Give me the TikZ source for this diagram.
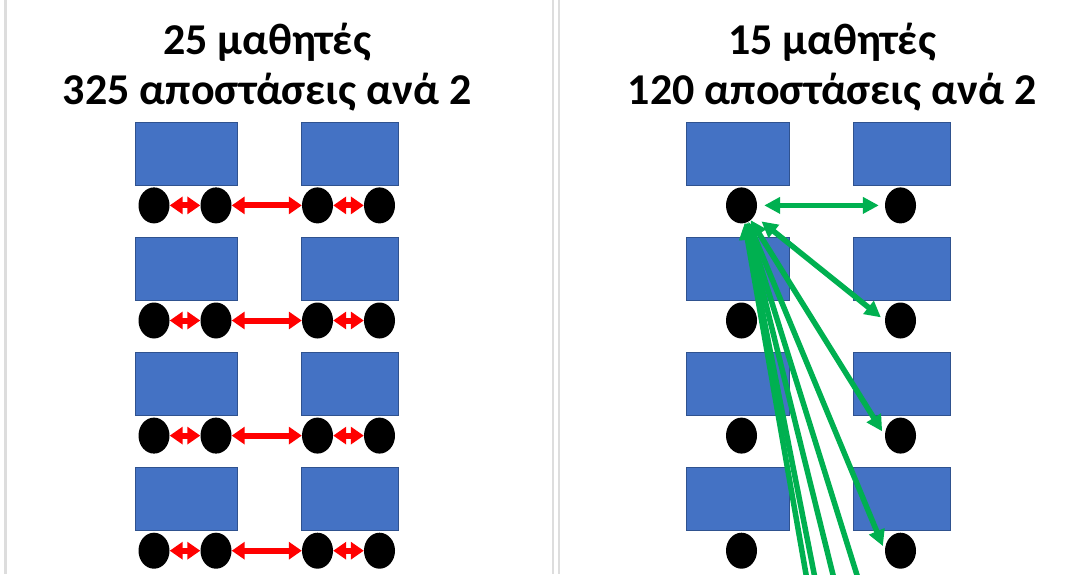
\documentclass[tikz,border=0pt]{standalone}
\usepackage{fontspec}
\setmainfont{Carlito}
\usepackage{tikz}
\usetikzlibrary{positioning, shapes.geometric, arrows.meta}
\definecolor{deskblue}{HTML}{4472C4}
\definecolor{deskedge}{HTML}{2F528F}
\definecolor{pairgreen}{HTML}{00B050}
\definecolor{framegray}{HTML}{DDDDDD}
\tikzstyle{desk} = [rectangle, minimum width=100pt, minimum height=63pt, inner sep=0pt, draw=deskedge, fill=deskblue]
\tikzstyle{seat} = [ellipse, minimum width=31pt, minimum height=36pt, inner sep=0pt, fill=black]
\tikzstyle{title} = [font=\bfseries\fontsize{44}{50}\selectfont, align=center, inner sep=0pt]
\tikzstyle{redpair} = [line width=6pt, red, <->, >={Triangle[length=13pt, width=17pt]}]
\tikzstyle{greenpair} = [line width=5.5pt, pairgreen, <->, >={Triangle[length=16pt, width=16pt]}]
\tikzstyle{frame} = [line width=2.5pt, framegray]

\begin{document}
\begin{tikzpicture}[x=1pt, y=-1pt, node distance=51.7pt]
        \useasboundingbox (0,0) rectangle (1086,574);
        \clip (0,0) rectangle (1086,574);

        % panel edges
        \draw[frame] (5.5,0)   -- (5.5,574);
        \draw[frame] (553,0)   -- (553,574);
        \draw[frame] (559,0)   -- (559,574);

        \node[title]                          at (267,67)  (title left)  {25 μαθητές\\325 αποστάσεις ανά 2};
        \node[title]                          at (832,67)  (title right) {15 μαθητές\\120 αποστάσεις ανά 2};

        % left classroom: every pair of neighbours
        \node[desk, minimum width=102pt]      at (186,153.5) (desk a1) {};
        \node[desk, minimum width=102pt, below=of desk a1] (desk a2) {};
        \node[desk, minimum width=102pt, below=of desk a2] (desk a3) {};
        \node[desk, minimum width=102pt, below=of desk a3] (desk a4) {};
        \node[desk, minimum width=97pt]       at (349.5,153.5) (desk b1) {};
        \node[desk, minimum width=97pt, below=of desk b1]  (desk b2) {};
        \node[desk, minimum width=97pt, below=of desk b2]  (desk b3) {};
        \node[desk, minimum width=97pt, below=of desk b3]  (desk b4) {};

        \node[seat, below=2pt of desk a1, xshift=-32pt] (seat a1 l) {};
        \node[seat, below=2pt of desk a1, xshift=30pt]  (seat a1 r) {};
        \node[seat, below=2pt of desk a2, xshift=-32pt] (seat a2 l) {};
        \node[seat, below=2pt of desk a2, xshift=30pt]  (seat a2 r) {};
        \node[seat, below=2pt of desk a3, xshift=-32pt] (seat a3 l) {};
        \node[seat, below=2pt of desk a3, xshift=30pt]  (seat a3 r) {};
        \node[seat, below=2pt of desk a4, xshift=-32pt] (seat a4 l) {};
        \node[seat, below=2pt of desk a4, xshift=30pt]  (seat a4 r) {};
        \node[seat, below=2pt of desk b1, xshift=-32pt] (seat b1 l) {};
        \node[seat, below=2pt of desk b1, xshift=30pt]  (seat b1 r) {};
        \node[seat, below=2pt of desk b2, xshift=-32pt] (seat b2 l) {};
        \node[seat, below=2pt of desk b2, xshift=30pt]  (seat b2 r) {};
        \node[seat, below=2pt of desk b3, xshift=-32pt] (seat b3 l) {};
        \node[seat, below=2pt of desk b3, xshift=30pt]  (seat b3 r) {};
        \node[seat, below=2pt of desk b4, xshift=-32pt] (seat b4 l) {};
        \node[seat, below=2pt of desk b4, xshift=30pt]  (seat b4 r) {};

        \draw[redpair] (seat a1 l) -- (seat a1 r);
        \draw[redpair] (seat a1 r) -- (seat b1 l);
        \draw[redpair] (seat b1 l) -- (seat b1 r);
        \draw[redpair] (seat a2 l) -- (seat a2 r);
        \draw[redpair] (seat a2 r) -- (seat b2 l);
        \draw[redpair] (seat b2 l) -- (seat b2 r);
        \draw[redpair] (seat a3 l) -- (seat a3 r);
        \draw[redpair] (seat a3 r) -- (seat b3 l);
        \draw[redpair] (seat b3 l) -- (seat b3 r);
        \draw[redpair] (seat a4 l) -- (seat a4 r);
        \draw[redpair] (seat a4 r) -- (seat b4 l);
        \draw[redpair] (seat b4 l) -- (seat b4 r);

        % right classroom: one student to all the others
        \node[desk, minimum width=103pt]      at (737.5,153.5) (desk c1) {};
        \node[desk, minimum width=103pt, below=of desk c1] (desk c2) {};
        \node[desk, minimum width=103pt, below=of desk c2] (desk c3) {};
        \node[desk, minimum width=103pt, below=of desk c3] (desk c4) {};
        \node[desk, minimum width=97pt]       at (901.5,153.5) (desk d1) {};
        \node[desk, minimum width=97pt, below=of desk d1]  (desk d2) {};
        \node[desk, minimum width=97pt, below=of desk d2]  (desk d3) {};
        \node[desk, minimum width=97pt, below=of desk d3]  (desk d4) {};

        \node[seat, below=2pt of desk c1, xshift=4pt]  (seat c1) {};
        \node[seat, below=2pt of desk c2, xshift=4pt]  (seat c2) {};
        \node[seat, below=2pt of desk c3, xshift=4pt]  (seat c3) {};
        \node[seat, below=2pt of desk c4, xshift=4pt]  (seat c4) {};
        \node[seat, below=2pt of desk d1, xshift=-1pt] (seat d1) {};
        \node[seat, below=2pt of desk d2, xshift=-1pt] (seat d2) {};
        \node[seat, below=2pt of desk d3, xshift=-1pt] (seat d3) {};
        \node[seat, below=2pt of desk d4, xshift=-1pt] (seat d4) {};

        % the rest of the class, below the picture
        \coordinate (far 5) at (896,700);
        \coordinate (far 6) at (864,700);
        \coordinate (far 7) at (839,700);
        \coordinate (far 8) at (828,700);

        \draw[greenpair, shorten <=7pt, shorten >=6pt] (seat c1) -- (seat d1);
        \draw[greenpair, shorten <=9pt, shorten >=5pt] (seat c1) -- (seat d2.west);
        \draw[greenpair, shorten >=5pt]                (seat c1) -- (seat d3.west);
        \draw[greenpair, shorten >=5pt]                (seat c1) -- (seat d4.west);
        \draw[greenpair]                               (seat c1) -- (far 5);
        \draw[greenpair]                               (seat c1) -- (far 6);
        \draw[greenpair]                               (seat c1) -- (far 7);
        \draw[greenpair]                               (seat c1) -- (far 8);
    \end{tikzpicture}
\end{document}
